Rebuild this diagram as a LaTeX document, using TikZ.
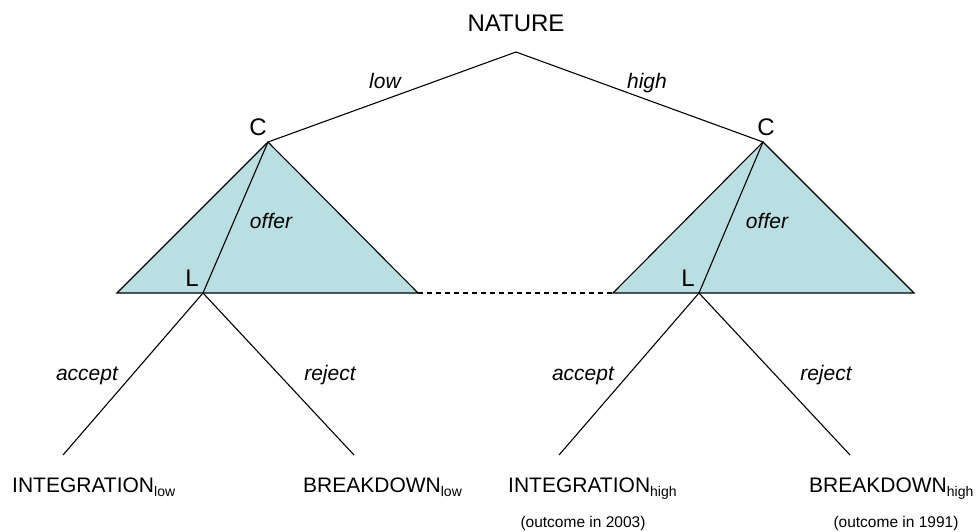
\documentclass[tikz,border=0pt]{standalone}
\usepackage{fontspec}
\setmainfont{Liberation Sans}
\definecolor{trifill}{RGB}{186,223,227}
\newcommand{\subtxt}[1]{\raisebox{-4pt}{\fontsize{14}{14}\selectfont #1}}
\begin{document}
\begin{tikzpicture}[x=1pt,y=-1pt,
  edge/.style={draw=black,line width=1.1pt},
  tri/.style={fill=trifill,draw=black,line width=1.1pt,line join=miter},
  lbl/.style={inner sep=0pt,anchor=base,font=\fontsize{21}{24}\selectfont\itshape},
  big/.style={inner sep=0pt,anchor=base,font=\fontsize{24}{28}\selectfont},
  leaf/.style={inner sep=0pt,anchor=base west,font=\fontsize{21}{24}\selectfont},
  note/.style={inner sep=0pt,anchor=base,font=\fontsize{15.5}{18}\selectfont}]
\useasboundingbox (0,0) rectangle (978,531);
% points
\coordinate (root) at (516,52);
\coordinate (C1) at (268,142);
\coordinate (C2) at (763,142);
\coordinate (B1l) at (117,293);
\coordinate (B1r) at (418,293);
\coordinate (L1) at (203,293);
\coordinate (B2l) at (613,293);
\coordinate (B2r) at (914,293);
\coordinate (L2) at (699,293);
\coordinate (A1) at (63,455);
\coordinate (R1) at (354,455);
\coordinate (A2) at (559,455);
\coordinate (R2) at (850,455);
% triangles
\draw[tri] (C1) -- (B1l) -- (B1r) -- cycle;
\draw[tri] (C2) -- (B2l) -- (B2r) -- cycle;
% edges
\draw[edge] (root) -- (C1);
\draw[edge] (root) -- (C2);
\draw[edge] (C1) -- (L1);
\draw[edge] (C2) -- (L2);
\draw[edge,dash pattern=on 5pt off 4pt] (B1r) -- (B2l);
\draw[edge] (L1) -- (A1);
\draw[edge] (L1) -- (R1);
\draw[edge] (L2) -- (A2);
\draw[edge] (L2) -- (R2);
% texts
\node[big] (nature) at (516,31) {NATURE};
\node[lbl] (low) at (385,88) {low};
\node[lbl] (high) at (647,88) {high};
\node[big] (c1t) at (258,135) {C};
\node[big] (c2t) at (766,135) {C};
\node[big] (l1t) at (192,286) {L};
\node[big] (l2t) at (688,286) {L};
\node[lbl] (off1) at (271,228) {offer};
\node[lbl] (off2) at (767,228) {offer};
\node[lbl] (acc1) at (87,380) {accept};
\node[lbl] (rej1) at (330,380) {reject};
\node[lbl] (acc2) at (583,380) {accept};
\node[lbl] (rej2) at (826,380) {reject};
\node[leaf] (intlow) at (12,492) {INTEGRATION\subtxt{low}};
\node[leaf] (brklow) at (303,492) {BREAKDOWN\subtxt{low}};
\node[leaf] (inthigh) at (508,492) {INTEGRATION\subtxt{high}};
\node[leaf] (brkhigh) at (809,492) {BREAKDOWN\subtxt{high}};
\node[note] (out1) at (583,527) {(outcome in 2003)};
\node[note] (out2) at (896,527) {(outcome in 1991)};
\end{tikzpicture}
\end{document}
